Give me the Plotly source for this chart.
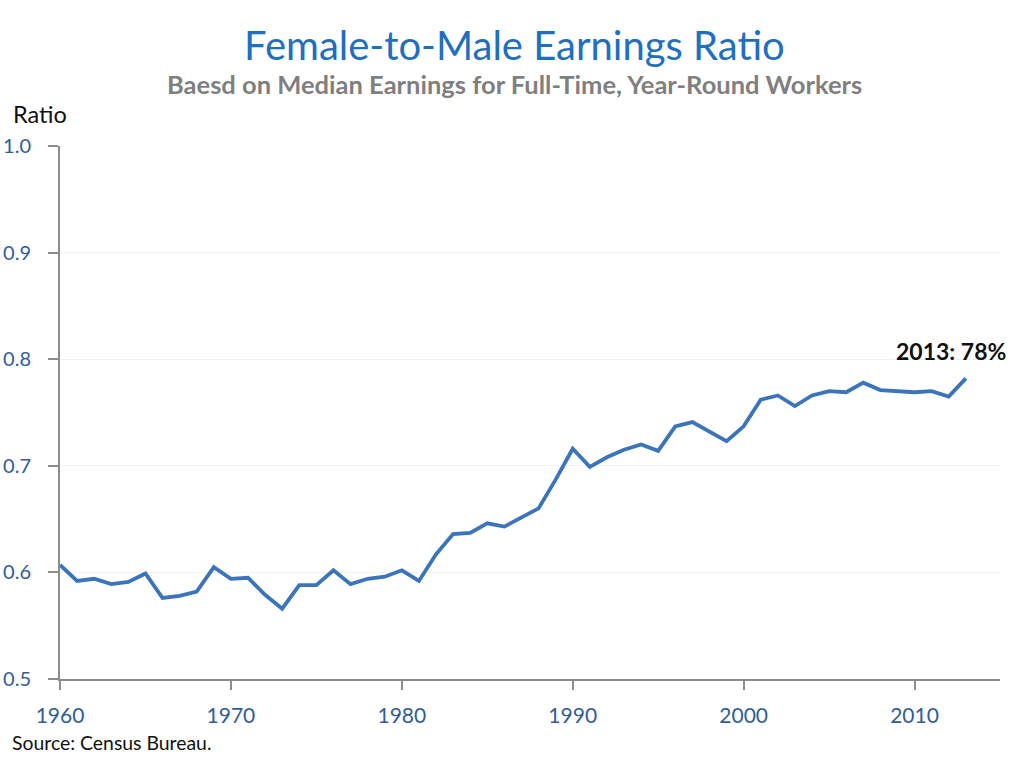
import plotly.graph_objects as go

years = list(range(1960, 2014))
ratio = [0.607, 0.592, 0.594, 0.589, 0.591, 0.599, 0.576, 0.578, 0.582, 0.605,
         0.594, 0.595, 0.579, 0.566, 0.588, 0.588, 0.602, 0.589, 0.594, 0.596,
         0.602, 0.592, 0.617, 0.636, 0.637, 0.646, 0.643, 0.652, 0.660, 0.687,
         0.716, 0.699, 0.708, 0.715, 0.720, 0.714, 0.737, 0.741, 0.732, 0.723,
         0.737, 0.762, 0.766, 0.756, 0.766, 0.770, 0.769, 0.778, 0.771, 0.770,
         0.769, 0.770, 0.765, 0.782]
x_ticks = [1960, 1970, 1980, 1990, 2000, 2010]
y_ticks = [0.5, 0.6, 0.7, 0.8, 0.9, 1.0]

title = "Female-to-Male Earnings Ratio"
subtitle = "Baesd on Median Earnings for Full-Time, Year-Round Workers"
callout = "2013: 78%"
source = "Source: Census Bureau."

FONT = "Lato"
TICK_COLOR = "#2F5D9A"

FIG_W, FIG_H = 1019, 759
L, R, T, B = 60, 19, 146, 80
W = FIG_W - L - R
H = FIG_H - T - B


def px(xs, ys):
    # screen pixel -> paper coords
    return (xs - L) / W, (FIG_H - B - ys) / H


fig = go.Figure()
fig.add_trace(go.Scatter(x=years, y=ratio, mode="lines",
                         line=dict(color="#3B74BA", width=3.8),
                         hoverinfo="x+y", showlegend=False))

texts = [
    (title, 514, 45, "center", dict(size=40, color="#1E6FC0")),
    ("<b>" + subtitle + "</b>", 514, 84, "center", dict(size=25.5, color="#7F7F7F")),
    ("Ratio", 11, 114, "left", dict(size=23.5, color="#111111")),
    ("<b>" + callout + "</b>", 951, 351, "center", dict(size=23, color="#111111")),
    (source, 10, 742, "left", dict(size=19.4, color="#111111")),
]
annotations = []
for txt, xp, yp, anchor, f in texts:
    ax, ay = px(xp, yp)
    annotations.append(dict(text=txt, xref="paper", yref="paper", x=ax, y=ay,
                            xanchor=anchor, yanchor="middle", showarrow=False,
                            font=dict(family=FONT, **f)))

fig.update_layout(
    width=FIG_W, height=FIG_H,
    margin=dict(l=L, r=R, t=T, b=B, autoexpand=False),
    paper_bgcolor="white", plot_bgcolor="white",
    font=dict(family=FONT),
    xaxis=dict(range=[1960, 2015], tickvals=x_ticks, showgrid=False,
               showline=True, linecolor="#8C8C8C", linewidth=2,
               ticks="outside", ticklen=9, tickcolor="#8C8C8C", tickwidth=1.5,
               ticklabelstandoff=8, automargin=False,
               tickfont=dict(size=21, color=TICK_COLOR), zeroline=False),
    yaxis=dict(range=[0.5, 1.0], tickvals=y_ticks, tickformat=".1f",
               showgrid=True, gridcolor="#F2F2F2", gridwidth=1,
               showline=True, linecolor="#8C8C8C", linewidth=2,
               ticks="outside", ticklen=10, tickcolor="#8C8C8C", tickwidth=1.5,
               ticklabelstandoff=13, automargin=False,
               tickfont=dict(size=20, color=TICK_COLOR), zeroline=False),
    annotations=annotations,
)

fig.write_html("out.html",
               config={"displayModeBar": False},
               post_script="document.body.style.margin='0';document.body.style.padding='0';")
